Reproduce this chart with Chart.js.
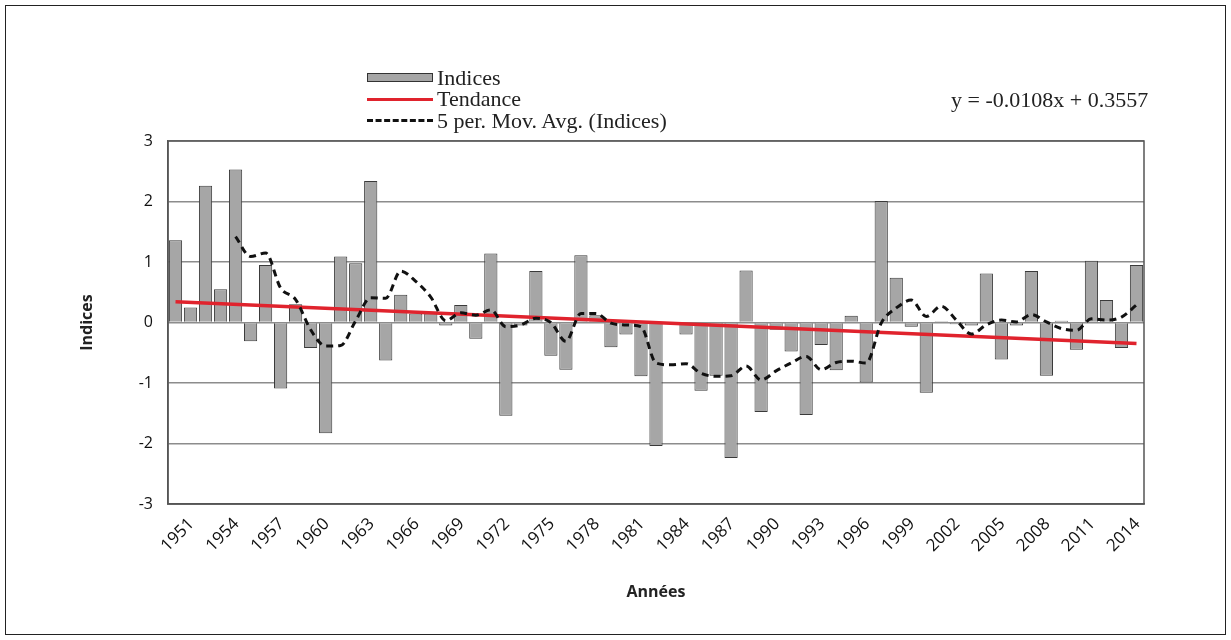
<!DOCTYPE html>
<html><head><meta charset="utf-8">
<script src="https://cdn.jsdelivr.net/npm/chart.js@4.4.1/dist/chart.umd.min.js"></script>
<style>
html,body{margin:0;padding:0;background:#fff;}
#wrap{position:relative;width:1231px;height:640px;overflow:hidden;background:#fff;}
#frame{position:absolute;left:5px;top:5px;width:1219px;height:628px;border:1px solid #222;pointer-events:none;}
canvas{position:absolute;left:0;top:0;}
.lg{position:absolute;font-family:"Liberation Serif","DejaVu Serif",serif;font-size:22px;color:#222;line-height:22px;white-space:nowrap;}
.sw{position:absolute;}
</style>
</head><body>
<div id="wrap">
<canvas id="c" width="1231" height="640"></canvas>
<div class="sw" style="left:367px;top:73px;width:64px;height:7px;background:#a6a6a6;border:1px solid #333;"></div>
<div class="lg" style="left:437px;top:67px;">Indices</div>
<div class="sw" style="left:367px;top:98px;width:66px;height:3px;background:#e0232d;"></div>
<div class="lg" style="left:437px;top:88px;">Tendance</div>
<div class="sw" style="left:367px;top:119px;width:66px;height:0;border-top:3px dashed #111;"></div>
<div class="lg" style="left:437px;top:110px;">5 per. Mov. Avg. (Indices)</div>
<div class="lg" style="left:951px;top:89px;">y = -0.0108x + 0.3557</div>
<div id="frame"></div>
</div>
<script>
const years = ['1951','1952','1953','1954','1955','1956','1957','1958','1959','1960',
'1961','1962','1963','1964','1965','1966','1967','1968','1969','1970',
'1971','1972','1973','1974','1975','1976','1977','1978','1979','1980',
'1981','1982','1983','1984','1985','1986','1987','1988','1989','1990',
'1991','1992','1993','1994','1995','1996','1997','1998','1999','2000',
'2001','2002','2003','2004','2005','2006','2007','2008','2009','2010',
'2011','2012','2013','2014','2015'];

const indices = [1.36,0.25,2.26,0.55,2.53,-0.31,0.95,-1.09,0.30,-0.42,
-1.83,1.09,0.98,2.34,-0.63,0.46,0.15,0.15,-0.05,0.29,
-0.27,1.14,-1.54,-0.05,0.85,-0.55,-0.78,1.11,0.12,-0.41,
-0.20,-0.89,-2.04,-0.02,-0.20,-1.13,-0.88,-2.24,0.86,-1.48,
-0.12,-0.48,-1.53,-0.37,-0.79,0.11,-0.99,2.01,0.74,-0.07,
-1.16,0.02,-0.03,-0.05,0.81,-0.61,-0.05,0.85,-0.88,0.03,
-0.45,1.02,0.37,-0.42,0.95];

const movingAvg = [null,null,null,null,1.42,1.09,1.15,0.57,0.38,-0.12,
-0.39,-0.38,0.03,0.41,0.40,0.85,0.68,0.42,0.03,0.16,
0.12,0.21,-0.07,-0.04,0.07,0.00,-0.31,0.15,0.15,-0.01,
-0.04,-0.07,-0.67,-0.70,-0.68,-0.84,-0.89,-0.88,-0.72,-0.95,
-0.80,-0.67,-0.56,-0.78,-0.66,-0.64,-0.67,-0.01,0.24,0.37,
0.10,0.27,0.04,-0.19,-0.04,0.04,0.01,0.13,0.01,-0.10,
-0.13,0.06,0.04,0.09,0.29];

const trendYears = ['1951','2015'];
const trendValues = [0.345,-0.346];

const yTicks = [-3,-2,-1,0,1,2,3];

const framePlugin = {
  id:'frame',
  afterDatasetsDraw(chart){
    const {ctx, chartArea:a} = chart;
    ctx.save();
    ctx.strokeStyle='#555';
    ctx.lineWidth=1.5;
    ctx.strokeRect(a.left,a.top,a.right-a.left,a.bottom-a.top);
    ctx.restore();
  }
};

const tickFont = '"Open Sans", "Liberation Sans", sans-serif';

new Chart(document.getElementById('c'), {
  type:'bar',
  data:{
    labels: years,
    datasets:[
      {type:'line', label:'5 per. Mov. Avg. (Indices)', data: movingAvg, borderColor:'#111', borderWidth:3,
       borderDash:[7,5], pointRadius:0, tension:0.4, cubicInterpolationMode:'monotone', fill:false, order:0, spanGaps:false},
      {type:'line', label:'Tendance', data: trendYears.map((y,i)=>({x:y,y:trendValues[i]})), borderColor:'#e0232d',
       borderWidth:3.5, pointRadius:0, fill:false, order:1},
      {type:'bar', label:'Indices', data: indices, backgroundColor:'#a6a6a6', borderColor:'#3a3a3a', borderWidth:1,
       barPercentage:0.88, categoryPercentage:1.0, order:2}
    ]
  },
  options:{
    responsive:false, animation:false, devicePixelRatio:1,
    layout:{padding:{left:78, top:141, right:87, bottom:38}},
    plugins:{legend:{display:false}, tooltip:{enabled:false}},
    scales:{
      x:{
        offset:true,
        grid:{display:false},
        border:{display:true, color:'#555', width:1.5},
        ticks:{autoSkip:false, maxRotation:45, minRotation:45, padding:2, labelOffset:16,
          color:'#111', font:{family:tickFont, size:17},
          callback:function(v,i){ return i%3===0 ? years[i] : ''; }},
        title:{display:true, text:'Années', color:'#222', font:{family:tickFont, size:16, weight:'bold'}, padding:0},
        afterFit:function(s){ s.height = 98; }
      },
      y:{
        min:-3, max:3,
        afterBuildTicks:function(s){ s.ticks = yTicks.map(v=>({value:v})); },
        grid:{color:'#8c8c8c', lineWidth:1.5, drawTicks:false},
        border:{display:true, color:'#555', width:1.5},
        ticks:{padding:15, color:'#111', font:{family:tickFont, size:16}},
        title:{display:true, text:'Indices', color:'#222', font:{family:tickFont, size:16, weight:'bold'}, padding:0},
        afterFit:function(s){ s.width = 90; }
      }
    }
  },
  plugins:[framePlugin]
});
</script>
</body></html>
